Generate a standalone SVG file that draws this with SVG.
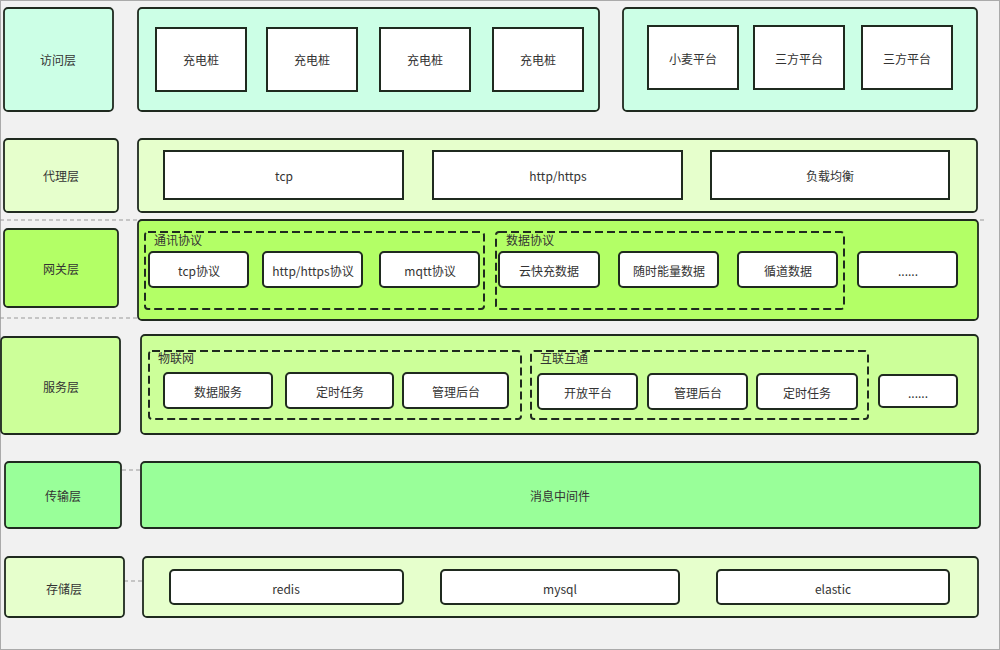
<svg xmlns="http://www.w3.org/2000/svg" width="1000" height="650" viewBox="0 0 1000 650">
<style>
text{font-family:"Noto Sans CJK SC","Liberation Sans",sans-serif;font-size:12px;fill:#333;text-anchor:middle;dominant-baseline:central}
.lbl{stroke:#1f2a1f;stroke-width:1.8}
.main{stroke:#1f2a1f;stroke-width:1.8}
.box{fill:#fff;stroke:#1f2a1f;stroke-width:2}
.grp{fill:none;stroke:#1f2a1f;stroke-width:2;stroke-dasharray:8 4}
.gt{text-anchor:start}
.conn{stroke:#999;stroke-width:1;stroke-dasharray:4 3;fill:none}
</style>
<rect x="0" y="0" width="1000" height="650" fill="#f1f1f1"/>
<rect x="0.5" y="0.5" width="999" height="649" fill="none" stroke="#aaa"/>
<g id="connectors">
<line class="conn" x1="0" y1="220" x2="985" y2="220"/>
<line class="conn" x1="0" y1="318" x2="138" y2="318"/>
<line class="conn" x1="122" y1="470" x2="141" y2="470"/>
<line class="conn" x1="124" y1="581" x2="143" y2="581"/>
</g>
<g id="access">
<rect class="lbl" x="4" y="8" width="109" height="103" rx="4" fill="#ccffe6"/><text x="58" y="59">访问层</text>
<rect class="main" x="138" y="8" width="461" height="103" rx="4" fill="#ccffe6"/>
<rect class="box" x="156" y="28" width="90" height="63"/><text x="201" y="59">充电桩</text>
<rect class="box" x="267" y="28" width="90" height="63"/><text x="312" y="59">充电桩</text>
<rect class="box" x="380" y="28" width="90" height="63"/><text x="425" y="59">充电桩</text>
<rect class="box" x="493" y="28" width="90" height="63"/><text x="538" y="59">充电桩</text>
<rect class="main" x="623" y="8" width="354" height="103" rx="4" fill="#ccffe6"/>
<rect class="box" x="648" y="26" width="90" height="63"/><text x="693" y="58">小麦平台</text>
<rect class="box" x="754" y="26" width="90" height="63"/><text x="799" y="58">三方平台</text>
<rect class="box" x="862" y="26" width="90" height="63"/><text x="907" y="58">三方平台</text>
</g>
<g id="proxy">
<rect class="lbl" x="4" y="139" width="114" height="73" rx="4" fill="#e6ffcc"/><text x="61" y="175">代理层</text>
<rect class="main" x="138" y="139" width="839" height="73" rx="4" fill="#e6ffcc"/>
<rect class="box" x="164" y="151" width="239" height="48"/><text x="284" y="175">tcp</text>
<rect class="box" x="433" y="151" width="249" height="48"/><text x="558" y="175">http/https</text>
<rect class="box" x="711" y="151" width="238" height="48"/><text x="830" y="175">负载均衡</text>
</g>
<g id="gateway">
<rect class="lbl" x="4" y="229" width="114" height="78" rx="4" fill="#b3ff66"/><text x="61" y="268">网关层</text>
<rect class="main" x="138" y="220" width="840" height="100" rx="4" fill="#b3ff66"/>
<rect class="grp" x="145" y="232" width="339" height="77" rx="3"/><text class="gt" x="154" y="239">通讯协议</text>
<rect class="grp" x="496" y="232" width="348" height="77" rx="3"/><text class="gt" x="506" y="239">数据协议</text>
<rect class="box" x="149" y="252" width="99" height="35" rx="4"/><text x="199" y="270">tcp协议</text>
<rect class="box" x="263" y="252" width="99" height="35" rx="4"/><text x="313" y="270">http/https协议</text>
<rect class="box" x="380" y="252" width="99" height="35" rx="4"/><text x="430" y="270">mqtt协议</text>
<rect class="box" x="499" y="252" width="100" height="35" rx="4"/><text x="549" y="270">云快充数据</text>
<rect class="box" x="619" y="252" width="99" height="35" rx="4"/><text x="669" y="270">随时能量数据</text>
<rect class="box" x="738" y="252" width="99" height="35" rx="4"/><text x="788" y="270">循道数据</text>
<rect class="box" x="858" y="252" width="99" height="35" rx="4"/><text x="908" y="270">......</text>
</g>
<g id="service">
<rect class="lbl" x="1" y="337" width="119" height="97" rx="4" fill="#ccff99"/><text x="61" y="386">服务层</text>
<rect class="main" x="141" y="335" width="837" height="99" rx="4" fill="#ccff99"/>
<rect class="grp" x="149" y="351" width="372" height="68" rx="3"/><text class="gt" x="158" y="357">物联网</text>
<rect class="grp" x="531" y="351" width="337" height="68" rx="3"/><text class="gt" x="540" y="357">互联互通</text>
<rect class="box" x="164" y="373" width="108" height="35" rx="4"/><text x="218" y="391">数据服务</text>
<rect class="box" x="286" y="373" width="107" height="35" rx="4"/><text x="340" y="391">定时任务</text>
<rect class="box" x="403" y="373" width="105" height="35" rx="4"/><text x="456" y="391">管理后台</text>
<rect class="box" x="538" y="374" width="99" height="35" rx="4"/><text x="588" y="392">开放平台</text>
<rect class="box" x="648" y="374" width="99" height="35" rx="4"/><text x="698" y="392">管理后台</text>
<rect class="box" x="757" y="374" width="100" height="35" rx="4"/><text x="807" y="392">定时任务</text>
<rect class="box" x="879" y="375" width="78" height="32" rx="4"/><text x="918" y="392">......</text>
</g>
<g id="transport">
<rect class="lbl" x="5" y="462" width="116" height="66" rx="4" fill="#99ff99"/><text x="63" y="495">传输层</text>
<rect class="main" x="141" y="462" width="839" height="66" rx="4" fill="#99ff99"/><text x="560" y="495">消息中间件</text>
</g>
<g id="storage">
<rect class="lbl" x="5" y="557" width="119" height="60" rx="4" fill="#e6ffcc"/><text x="64" y="588">存储层</text>
<rect class="main" x="143" y="557" width="835" height="60" rx="4" fill="#e6ffcc"/>
<rect class="box" x="170" y="570" width="233" height="34" rx="4"/><text x="286" y="588">redis</text>
<rect class="box" x="441" y="570" width="238" height="34" rx="4"/><text x="560" y="588">mysql</text>
<rect class="box" x="717" y="570" width="232" height="34" rx="4"/><text x="833" y="588">elastic</text>
</g>
</svg>
